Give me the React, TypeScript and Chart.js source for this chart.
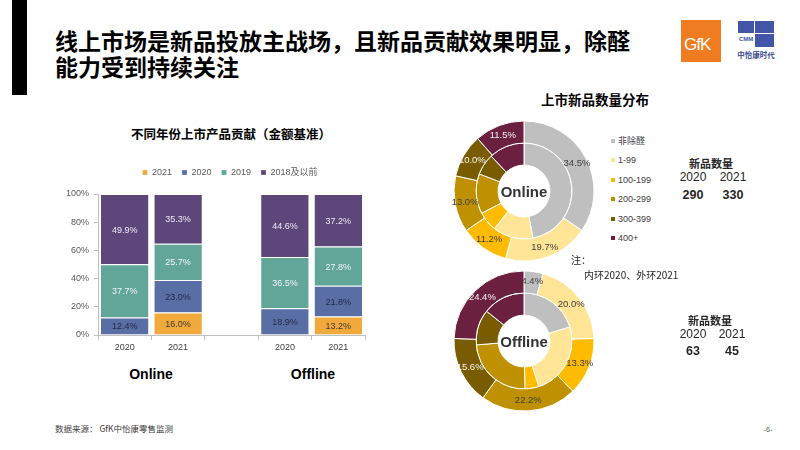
import React, { useEffect, useRef } from 'react';
import { Chart, registerables } from 'chart.js';

Chart.register(...registerables);

// ---------- data ----------
const barCategories = ['2020', '2021', '', '2020', '2021'];
const barSeriesNames = ['2021', '2020', '2019', '2018及以前'];
const bar2021 = [null, 16.0, null, null, 13.2];
const bar2020 = [12.4, 23.0, null, 18.9, 21.8];
const bar2019 = [37.7, 25.7, null, 36.5, 27.8];
const bar2018 = [49.9, 35.3, null, 44.6, 37.2];
const groupLabels = ['Online', 'Offline'];

const donutCategories = ['非除醛', '1-99', '100-199', '200-299', '300-399', '400+'];
const online2021 = [34.5, 19.7, 11.2, 13.0, 10.0, 11.5];
const online2020 = [47.0, 13.6, 6.7, 13.5, 7.2, 12.0];
const offline2021 = [4.4, 20.0, 13.3, 22.2, 15.6, 24.4];
const offline2020 = [20.3, 24.7, 4.7, 24.0, 12.0, 14.3];
const countYears = ['2020', '2021'];
const onlineCounts = [290, 330];
const offlineCounts = [63, 45];

// ---------- styles ----------
const FONT_CJK = '"Noto Sans CJK SC", "Microsoft YaHei", sans-serif';
const FONT_NUM = '"Liberation Sans", Arial, "Noto Sans CJK SC", sans-serif';
const barColors = ['#F2A93B', '#5A6EA6', '#62A69A', '#5D467A'];
const barLabelColors = ['#3A3A3A', '#1E2A48', '#F4F4F4', '#EFE8F4'];
const donutColors = ['#BFBFBF', '#FFE595', '#FFBB00', '#BF9000', '#7A5C00', '#6B2040'];
const donutLabelColors = ['#404040', '#404040', '#404040', '#404040', '#F4F4F4', '#F4F4F4'];

const barLabelPlugin = {
  id: 'barLabels',
  afterDatasetsDraw(chart: any) {
    const ctx = chart.ctx;
    ctx.save();
    ctx.font = `9px ${FONT_NUM}`;
    ctx.textAlign = 'center';
    ctx.textBaseline = 'middle';
    chart.data.datasets.forEach((ds: any, i: number) => {
      const meta = chart.getDatasetMeta(i);
      meta.data.forEach((el: any, j: number) => {
        const v = ds.data[j];
        if (v == null) return;
        const p = el.getProps(['x', 'y', 'base'], true);
        ctx.fillStyle = barLabelColors[i];
        ctx.fillText(v.toFixed(1) + '%', p.x, (p.y + p.base) / 2 + 1);
      });
    });
    ctx.restore();
  },
};

const legendHeightPlugin = {
  id: 'legendHeight',
  beforeInit(chart: any) {
    const fit = chart.legend.fit;
    chart.legend.fit = function () {
      fit.call(chart.legend);
      this.height = 36;
    };
  },
};

const donutLabelPlugin = {
  id: 'donutLabels',
  afterDatasetsDraw(chart: any) {
    const ctx = chart.ctx;
    const ds = chart.data.datasets[0];
    const meta = chart.getDatasetMeta(0);
    ctx.save();
    ctx.font = `9.5px ${FONT_NUM}`;
    ctx.textAlign = 'center';
    ctx.textBaseline = 'middle';
    meta.data.forEach((arc: any, i: number) => {
      const p = arc.getProps(['x', 'y', 'startAngle', 'endAngle', 'innerRadius', 'outerRadius'], true);
      const mid = (p.startAngle + p.endAngle) / 2;
      const r = (p.innerRadius + p.outerRadius) / 2 + 1;
      ctx.fillStyle = donutLabelColors[i];
      ctx.fillText(ds.data[i].toFixed(1) + '%', p.x + Math.cos(mid) * r, p.y + Math.sin(mid) * r);
    });
    ctx.restore();
  },
};

function BarChart() {
  const ref = useRef<HTMLCanvasElement>(null);
  useEffect(() => {
    const series = [bar2021, bar2020, bar2019, bar2018];
    const chart = new Chart(ref.current as HTMLCanvasElement, {
      type: 'bar',
      data: {
        labels: barCategories,
        datasets: series.map((d, i) => ({
          label: barSeriesNames[i],
          data: d,
          backgroundColor: barColors[i],
          borderColor: '#FFFFFF',
          borderWidth: { top: 1, bottom: 0, left: 0, right: 0 },
          borderSkipped: false,
          barPercentage: 0.89,
          categoryPercentage: 1,
        })),
      },
      options: {
        responsive: false,
        animation: false,
        devicePixelRatio: 1,
        layout: { padding: 0 },
        plugins: {
          legend: {
            position: 'top',
            labels: {
              boxWidth: 5,
              boxHeight: 5,
              padding: 10,
              color: '#595959',
              font: { size: 9, family: FONT_NUM },
            },
          },
          tooltip: { enabled: false },
        },
        scales: {
          x: {
            stacked: true,
            grid: { display: true, drawOnChartArea: false, drawTicks: true, tickLength: 5, color: '#BFBFBF', offset: true },
            border: { color: '#BFBFBF' },
            ticks: { color: '#404040', font: { size: 9, family: FONT_NUM }, padding: 2 },
            afterFit(a: any) {
              a.height = 25;
            },
          },
          y: {
            stacked: true,
            min: 0,
            max: 100,
            ticks: {
              stepSize: 20,
              callback: (v: any) => v + '%',
              color: '#595959',
              font: { size: 9, family: FONT_NUM },
              padding: 5,
            },
            grid: { drawOnChartArea: false, tickLength: 4, color: '#BFBFBF' },
            border: { color: '#BFBFBF' },
            afterFit(a: any) {
              a.width = 48;
            },
          },
          yRight: {
            position: 'right',
            display: true,
            grid: { display: false, drawTicks: false },
            border: { display: false },
            ticks: { display: false },
            afterFit(a: any) {
              a.width = 45;
            },
          },
        },
      } as any,
      plugins: [barLabelPlugin, legendHeightPlugin],
    });
    return () => chart.destroy();
  }, []);
  return (
    <canvas
      ref={ref}
      width={360}
      height={202}
      style={{ position: 'absolute', left: 50, top: 158, width: 360, height: 202 }}
    />
  );
}

function Donut(props: { outer: number[]; inner: number[]; left: number; top: number }) {
  const ref = useRef<HTMLCanvasElement>(null);
  useEffect(() => {
    const chart = new Chart(ref.current as HTMLCanvasElement, {
      type: 'doughnut',
      data: {
        labels: donutCategories,
        datasets: [
          { label: '2021', data: props.outer, backgroundColor: donutColors, borderColor: '#FFFFFF', borderWidth: 1 },
          { label: '2020', data: props.inner, backgroundColor: donutColors, borderColor: '#FFFFFF', borderWidth: 1 },
        ],
      },
      options: {
        responsive: false,
        animation: false,
        devicePixelRatio: 1,
        radius: 70,
        cutout: '37%',
        layout: { padding: 0 },
        plugins: { legend: { display: false }, tooltip: { enabled: false } },
      } as any,
      plugins: [donutLabelPlugin],
    });
    return () => chart.destroy();
  }, []);
  return (
    <canvas
      ref={ref}
      width={150}
      height={150}
      style={{ position: 'absolute', left: props.left, top: props.top, width: 150, height: 150 }}
    />
  );
}

const T = (x: number, y: number, text: string, style: any = {}, align: 'c' | 'l' = 'c') => (
  <div
    style={{
      position: 'absolute',
      left: x,
      top: y,
      transform: align === 'c' ? 'translate(-50%,-50%)' : 'translate(0,-50%)',
      whiteSpace: 'nowrap',
      lineHeight: 1,
      fontFamily: FONT_CJK,
      color: '#262626',
      ...style,
    }}
  >
    {text}
  </div>
);

export default function App() {
  const legendYs = [141, 160, 179.5, 199, 218.5, 237.5];
  return (
    <div
      style={{
        position: 'fixed',
        left: 0,
        top: 0,
        width: 800,
        height: 450,
        background: '#FFFFFF',
        overflow: 'hidden',
        fontFamily: FONT_CJK,
      }}
    >
      {/* left black bar */}
      <div style={{ position: 'absolute', left: 12, top: 0, width: 15, height: 95, background: '#000' }} />
      {T(55, 40, '线上市场是新品投放主战场，且新品贡献效果明显，除醛', { fontSize: 23, fontWeight: 700, color: '#000' }, 'l')}
      {T(55, 66, '能力受到持续关注', { fontSize: 23, fontWeight: 700, color: '#000' }, 'l')}

      {/* GfK logo */}
      <div style={{ position: 'absolute', left: 681, top: 20, width: 40, height: 42, background: '#F07C22' }}>
        <div
          style={{
            position: 'absolute',
            left: 3,
            top: 16,
            color: '#FFF',
            fontFamily: FONT_NUM,
            fontSize: 17,
            lineHeight: 1,
            letterSpacing: -1,
          }}
        >
          GfK
        </div>
      </div>
      {/* CMM logo */}
      <div style={{ position: 'absolute', left: 738, top: 21, width: 36, height: 26, background: '#4355A6' }}>
        <div style={{ position: 'absolute', left: 0, top: 12, width: 16, height: 14, background: '#FFF' }} />
        <div style={{ position: 'absolute', left: 17, top: 12, width: 19, height: 1, background: '#FFF' }} />
        <div style={{ position: 'absolute', left: 16, top: 0, width: 1, height: 26, background: '#FFF' }} />
        <div
          style={{
            position: 'absolute',
            left: 1,
            top: 15,
            fontSize: 6,
            fontFamily: FONT_NUM,
            color: '#4355A6',
            fontWeight: 700,
            lineHeight: 1,
          }}
        >
          CMM
        </div>
      </div>
      {T(756, 55, '中怡康时代', { fontSize: 7.5, fontWeight: 700, color: '#3A4A8F' })}

      {/* left chart */}
      {T(231, 134, '不同年份上市产品贡献（金额基准）', { fontSize: 12.5, fontWeight: 700, color: '#000' })}
      <BarChart />
      {T(151, 374, groupLabels[0], { fontSize: 14, fontWeight: 700, color: '#000', fontFamily: FONT_NUM })}
      {T(313, 374, groupLabels[1], { fontSize: 14, fontWeight: 700, color: '#000', fontFamily: FONT_NUM })}

      {/* right side */}
      {T(595, 100, '上市新品数量分布', { fontSize: 13.5, fontWeight: 700, color: '#000' })}
      <Donut outer={online2021} inner={online2020} left={449} top={116} />
      <Donut outer={offline2021} inner={offline2020} left={449} top={266} />
      {T(524, 191, 'Online', { fontSize: 15, fontWeight: 700, color: '#333', fontFamily: FONT_NUM })}
      {T(524, 341, 'Offline', { fontSize: 15, fontWeight: 700, color: '#333', fontFamily: FONT_NUM })}

      {donutCategories.map((c, i) => (
        <React.Fragment key={c}>
          <div
            style={{
              position: 'absolute',
              left: 611,
              top: legendYs[i] - 2,
              width: 4,
              height: 4,
              background: donutColors[i],
            }}
          />
          {T(618, legendYs[i], c, { fontSize: 9, color: '#404040', fontFamily: FONT_NUM }, 'l')}
        </React.Fragment>
      ))}

      {T(711, 163, '新品数量', { fontSize: 11, fontWeight: 700 })}
      {T(693, 177, countYears[0], { fontSize: 12, fontFamily: FONT_NUM })}
      {T(733, 177, countYears[1], { fontSize: 12, fontFamily: FONT_NUM })}
      {T(693, 195, String(onlineCounts[0]), { fontSize: 12.5, fontWeight: 700, fontFamily: FONT_NUM })}
      {T(733, 195, String(onlineCounts[1]), { fontSize: 12.5, fontWeight: 700, fontFamily: FONT_NUM })}

      {T(571, 260, '注：', { fontSize: 10, color: '#262626' }, 'l')}
      {T(584, 275, '内环2020、外环2021', { fontSize: 10, color: '#262626' }, 'l')}

      {T(710, 320, '新品数量', { fontSize: 11, fontWeight: 700 })}
      {T(693, 334, countYears[0], { fontSize: 12, fontFamily: FONT_NUM })}
      {T(732, 334, countYears[1], { fontSize: 12, fontFamily: FONT_NUM })}
      {T(693, 351, String(offlineCounts[0]), { fontSize: 12.5, fontWeight: 700, fontFamily: FONT_NUM })}
      {T(732, 351, String(offlineCounts[1]), { fontSize: 12.5, fontWeight: 700, fontFamily: FONT_NUM })}

      {/* footer */}
      {T(55, 428, '数据来源：  GfK中怡康零售监测', { fontSize: 8.5, color: '#404040' }, 'l')}
      {T(768, 429, '-6-', { fontSize: 7, color: '#595959', fontFamily: FONT_NUM })}
    </div>
  );
}
